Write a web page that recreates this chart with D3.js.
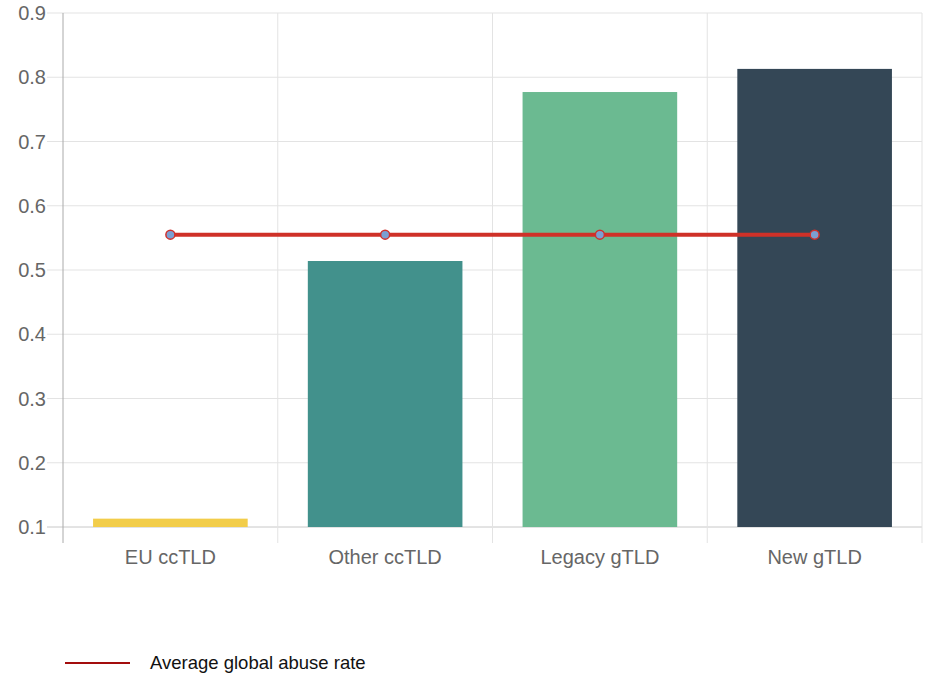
<!DOCTYPE html>
<html>
<head>
<meta charset="utf-8">
<script src="https://cdn.jsdelivr.net/npm/d3@7"></script>
<style>
  body { margin: 0; background: #fff; }
  text { font-family: "Liberation Sans", Arial, sans-serif; }
</style>
</head>
<body>
<svg id="chart"></svg>
<script>
// data
const CATEGORIES = ["EU ccTLD", "Other ccTLD", "Legacy gTLD", "New gTLD"];
const ABUSE_RATE = [0.113, 0.514, 0.777, 0.813];
const GLOBAL_AVG = [0.555, 0.555, 0.555, 0.555];
const Y_TICKS = [0.1, 0.2, 0.3, 0.4, 0.5, 0.6, 0.7, 0.8, 0.9];
const BAR_COLORS = ["#f2cd4a", "#42918c", "#6bba91", "#344756"];
const LEGEND_LABEL = "Average global abuse rate";

const WIDTH = 930;
const HEIGHT = 679;
const margin = { top: 13, right: 8, bottom: 152, left: 63 };

const svg = d3.select("#chart")
    .attr("width", WIDTH)
    .attr("height", HEIGHT);

const w = WIDTH - margin.left - margin.right;
const h = HEIGHT - margin.top - margin.bottom;

const g = svg.append("g")
    .attr("transform", "translate(" + margin.left + "," + margin.top + ")");

const x = d3.scaleBand()
    .domain(CATEGORIES)
    .range([0, w]);

const y = d3.scaleLinear()
    .domain([0.1, 0.9])
    .range([h, 0]);

// horizontal grid
g.append("g")
    .selectAll("line")
    .data(Y_TICKS)
    .enter().append("line")
    .attr("x1", -16)
    .attr("x2", w)
    .attr("y1", d => y(d))
    .attr("y2", d => y(d))
    .attr("stroke", d => d === 0.1 ? "#c8c8c8" : "#e3e3e3")
    .attr("stroke-width", 1);

// vertical grid (band edges)
const edges = CATEGORIES.map(c => x(c)).concat([w]);
g.append("g")
    .selectAll("line")
    .data(edges)
    .enter().append("line")
    .attr("x1", d => d)
    .attr("x2", d => d)
    .attr("y1", 0)
    .attr("y2", h + 16)
    .attr("stroke", (d, i) => i === 0 ? "#aaaaaa" : "#e3e3e3")
    .attr("stroke-width", 1);

// y tick labels
g.append("g")
    .selectAll("text")
    .data(Y_TICKS)
    .enter().append("text")
    .attr("x", -17)
    .attr("y", d => y(d))
    .attr("dy", "0.35em")
    .attr("text-anchor", "end")
    .attr("fill", "#666")
    .style("font-size", "20px")
    .text(d3.format(".1f"));

// x labels
g.append("g")
    .selectAll("text")
    .data(CATEGORIES)
    .enter().append("text")
    .attr("x", d => x(d) + x.bandwidth() / 2)
    .attr("y", h + 30)
    .attr("dy", "0.35em")
    .attr("text-anchor", "middle")
    .attr("fill", "#666")
    .style("font-size", "20px")
    .text(d => d);

// bars (72% of each band, like the original)
const barW = x.bandwidth() * 0.72;
g.append("g")
    .selectAll("rect")
    .data(ABUSE_RATE)
    .enter().append("rect")
    .attr("x", (d, i) => x(CATEGORIES[i]) + (x.bandwidth() - barW) / 2)
    .attr("width", barW)
    .attr("y", d => y(d))
    .attr("height", d => h - y(d))
    .attr("fill", (d, i) => BAR_COLORS[i]);

// average line
const line = d3.line()
    .x((d, i) => x(CATEGORIES[i]) + x.bandwidth() / 2)
    .y(d => y(d));

g.append("path")
    .datum(GLOBAL_AVG)
    .attr("d", line)
    .attr("fill", "none")
    .attr("stroke", "#cf3128")
    .attr("stroke-width", 4);

g.append("g")
    .selectAll("circle")
    .data(GLOBAL_AVG)
    .enter().append("circle")
    .attr("cx", (d, i) => x(CATEGORIES[i]) + x.bandwidth() / 2)
    .attr("cy", d => y(d))
    .attr("r", 4.5)
    .attr("fill", "#7b9fd2")
    .attr("stroke", "#d0312d")
    .attr("stroke-width", 1.5);

// legend
const legend = svg.append("g")
    .attr("transform", "translate(65,663)");

legend.append("line")
    .attr("x1", 0)
    .attr("x2", 65)
    .attr("y1", 0)
    .attr("y2", 0)
    .attr("stroke", "#a30d0d")
    .attr("stroke-width", 2);

legend.append("text")
    .attr("x", 85)
    .attr("y", 0)
    .attr("dy", "0.35em")
    .attr("fill", "#111")
    .style("font-size", "18.5px")
    .text(LEGEND_LABEL);
</script>
</body>
</html>
